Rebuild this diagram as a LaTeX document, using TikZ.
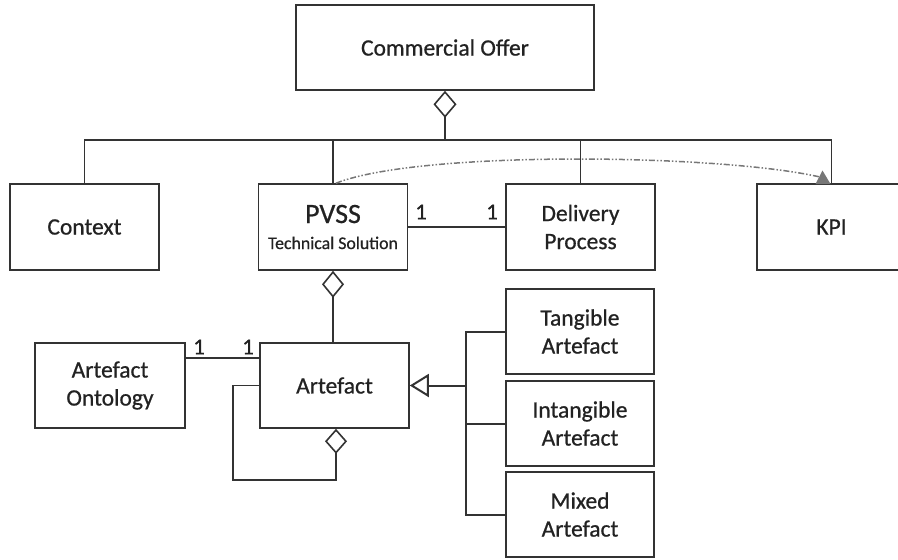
\documentclass[tikz,border=0pt]{standalone}
\usepackage{fontspec}
\setmainfont{Carlito}[FakeBold=0.7]
\usetikzlibrary{arrows.meta}
\definecolor{linecol}{HTML}{333333}
\definecolor{txtcol}{HTML}{222222}
\definecolor{dashcol}{HTML}{777777}
\tikzset{
  aggtip/.tip={Diamond[open,length=27pt,width=22pt]},
  gentip/.tip={Triangle[open,length=19pt,width=23pt]}
}
\begin{document}
\begin{tikzpicture}[x=1pt,y=-1pt,
  box/.style={draw=linecol, line width=1.6pt, minimum width=149pt, minimum height=86pt,
    inner sep=0pt, align=center, text=txtcol, font=\fontsize{23.5}{28}\selectfont},
  conn/.style={draw=linecol, line width=1.6pt},
  mult/.style={text=txtcol, font=\fontsize{23}{26}\selectfont, inner sep=0pt}]
\path[use as bounding box] (0,0) rectangle (898,560);
\clip (0,0) rectangle (898,560);
% boxes
\node[box, minimum width=298pt, minimum height=85pt] (offer) at (445,47.5) {Commercial Offer};
\node[box] (context) at (84.5,227) {Context};
\node[box] (pvss) at (333,227) {{\fontsize{28}{30}\selectfont PVSS}\\[-2pt]{\fontsize{17.8}{20}\selectfont Technical Solution}};
\node[box] (delivery) at (580.5,227) {Delivery\\Process};
\node[box] (kpi) at (831.5,227) {KPI};
\node[box, minimum width=150pt, minimum height=85pt] (ontology) at (110,385.5) {Artefact\\Ontology};
\node[box, minimum height=85pt] (artefact) at (334.5,385.5) {Artefact};
\node[box, minimum width=148pt, minimum height=85pt] (tangible) at (580,331.5) {Tangible\\Artefact};
\node[box, minimum width=148pt, minimum height=85pt] (intangible) at (580,423.5) {Intangible\\Artefact};
\node[box, minimum width=148pt, minimum height=85pt] (mixed) at (580,514.5) {Mixed\\Artefact};
% top aggregation
\coordinate (bus) at (445,140);
\draw[conn, {Diamond[open,length=27pt,width=23pt]}-] (offer.south) -- (bus);
\draw[conn] (context.north) |- (bus) -| (kpi.north);
\draw[conn] (pvss.north) -- (pvss.north |- bus);
\draw[conn] (delivery.north) -- (delivery.north |- bus);
% PVSS - delivery
\draw[conn] (pvss.east) -- (delivery.west);
\node[mult] (m1) at (421,212) {1};
\node[mult] (m2) at (492,212) {1};
% PVSS aggregation of artefact
\draw[conn, aggtip-] (pvss.south) -- (pvss.south |- artefact.north);
% ontology - artefact
\draw[conn] ([yshift=-16pt]ontology.north east) -- ([yshift=-16pt]artefact.north west);
\node[mult] (m3) at (199,347) {1};
\node[mult] (m4) at (248,347) {1};
% self aggregation
\coordinate (loop) at (233,480);
\draw[conn, -{Diamond[open,length=25pt,width=22pt]}] (artefact.west) -| (loop) -| ([xshift=1.5pt]artefact.south);
% generalization
\coordinate (gbus) at (466,385.5);
\draw[conn, line width=2pt] (tangible.west) -| (gbus);
\draw[conn, line width=2pt] (mixed.west) -| (gbus);
\draw[conn, line width=2pt] (intangible.west) -- (intangible.west -| gbus);
\draw[conn, line width=2pt, -gentip] (gbus) -- (artefact.east);
% dependency curve
\coordinate (kpitip) at (820,177);
\draw[dashcol, line width=1.5pt, dash pattern=on 6pt off 2pt on 1.5pt off 2pt on 1.5pt off 2pt]
  ([xshift=3pt]pvss.north) .. controls (420,150) and (720,154) .. (kpitip);
\fill[dashcol] (815.5,184) -- (822.5,170.5) -- (830.5,184) -- cycle;
\end{tikzpicture}
\end{document}
